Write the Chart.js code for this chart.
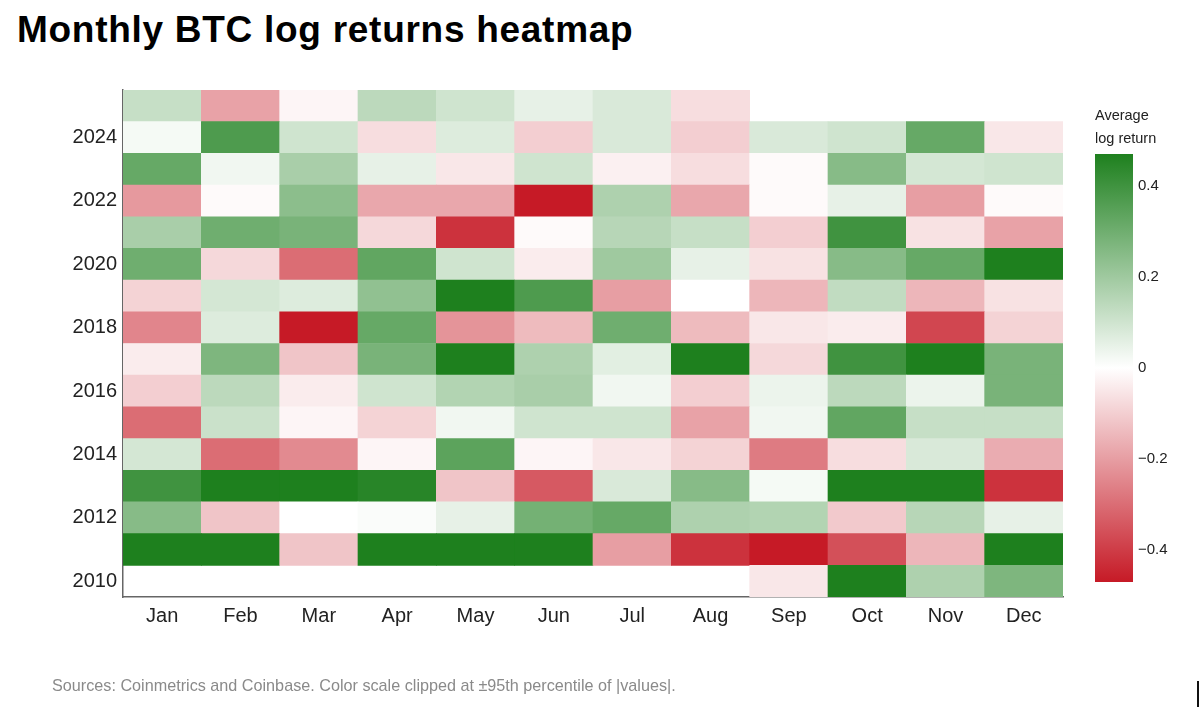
<!DOCTYPE html>
<html lang="en">
<head>
<meta charset="UTF-8">
<title>Monthly BTC log returns heatmap</title>
<script src="https://cdn.jsdelivr.net/npm/chart.js"></script>
<style>
    html, body { margin: 0; padding: 0; background: #fff; }
    body { width: 1200px; height: 707px; position: relative; overflow: hidden; font-family: "Liberation Sans", Arial, sans-serif; }
    #titulo { position: absolute; left: 17px; top: 9px; font-size: 37px; font-weight: bold; letter-spacing: 0.72px; color: #000; white-space: nowrap; }
    #heatmap { position: absolute; left: 0; top: 0; }
    #barra { position: absolute; left: 1090px; top: 140px; }
    #barra-titulo { position: absolute; left: 1095px; top: 104px; font-size: 14.5px; line-height: 23px; color: #222; }
    #fuente { position: absolute; left: 52px; top: 676px; font-size: 16.2px; color: #8a8a8a; white-space: nowrap; }
    #marca { position: absolute; left: 1197px; top: 681px; width: 2px; height: 26px; background: #111; }
</style>
</head>
<body>
<div id="titulo">Monthly BTC log returns heatmap</div>
<canvas id="heatmap" width="1200" height="707"></canvas>
<div id="barra-titulo">Average<br>log return</div>
<canvas id="barra" width="110" height="460"></canvas>
<div id="fuente">Sources: Coinmetrics and Coinbase. Color scale clipped at ±95th percentile of |values|.</div>
<div id="marca"></div>

<script>
// Meses y años
const months = ['Jan', 'Feb', 'Mar', 'Apr', 'May', 'Jun', 'Jul', 'Aug', 'Sep', 'Oct', 'Nov', 'Dec']
const years = [2010, 2011, 2012, 2013, 2014, 2015, 2016, 2017, 2018, 2019, 2020, 2021, 2022, 2023, 2024, 2025]
const yearTicks = [2010, 2012, 2014, 2016, 2018, 2020, 2022, 2024]
const barTicks = [-0.4, -0.2, 0, 0.2, 0.4]
const clip = 0.47

// Log return mensual por año
const r2010 = [null, null, null, null, null, null, null, null, -0.05, 0.50, 0.17, 0.27]
const r2011 = [0.55, 0.55, -0.12, 0.60, 0.70, 0.50, -0.20, -0.42, -0.47, -0.36, -0.15, 0.50]
const r2012 = [0.25, -0.12, 0.00, 0.01, 0.05, 0.29, 0.32, 0.17, 0.16, -0.11, 0.15, 0.05]
const r2013 = [0.40, 0.50, 0.55, 0.45, -0.12, -0.34, 0.08, 0.25, 0.02, 0.50, 0.55, -0.42]
const r2014 = [0.09, -0.30, -0.24, -0.02, 0.34, -0.02, -0.05, -0.09, -0.27, -0.07, 0.08, -0.17]
const r2015 = [-0.30, 0.11, -0.02, -0.09, 0.03, 0.10, 0.10, -0.19, 0.03, 0.33, 0.12, 0.12]
const r2016 = [-0.10, 0.14, -0.04, 0.10, 0.16, 0.18, 0.03, -0.10, 0.04, 0.14, 0.04, 0.28]
const r2017 = [-0.04, 0.27, -0.12, 0.28, 0.55, 0.17, 0.06, 0.50, -0.08, 0.40, 0.48, 0.28]
const r2018 = [-0.25, 0.07, -0.47, 0.32, -0.22, -0.14, 0.30, -0.14, -0.05, -0.04, -0.38, -0.09]
const r2019 = [-0.09, 0.09, 0.07, 0.23, 0.50, 0.37, -0.20, 0.00, -0.15, 0.13, -0.15, -0.06]
const r2020 = [0.30, -0.08, -0.30, 0.33, 0.10, -0.04, 0.20, 0.05, -0.06, 0.25, 0.32, 0.50]
const r2021 = [0.18, 0.30, 0.28, -0.08, -0.42, -0.01, 0.15, 0.12, -0.10, 0.40, -0.06, -0.19]
const r2022 = [-0.21, -0.01, 0.24, -0.18, -0.18, -0.47, 0.17, -0.18, -0.01, 0.05, -0.20, -0.01]
const r2023 = [0.32, 0.03, 0.18, 0.05, -0.05, 0.10, -0.03, -0.07, -0.01, 0.25, 0.09, 0.10]
const r2024 = [0.02, 0.37, 0.10, -0.07, 0.07, -0.10, 0.08, -0.10, 0.08, 0.10, 0.32, -0.05]
const r2025 = [0.12, -0.19, -0.02, 0.14, 0.10, 0.05, 0.08, -0.07, null, null, null, null]

const filas = [r2010, r2011, r2012, r2013, r2014, r2015, r2016, r2017, r2018, r2019, r2020, r2021, r2022, r2023, r2024, r2025]

const verde = [30, 128, 30]
const rojo = [198, 26, 38]

// Escala de color blanco -> verde / blanco -> rojo, recortada en ±clip
function colorFor(v) {
    let t = Math.max(-1, Math.min(1, v / clip))
    const fin = t >= 0 ? verde : rojo
    t = Math.abs(t)
    const c = fin.map(x => Math.round(255 + (x - 255) * t))
    return `rgb(${c[0]}, ${c[1]}, ${c[2]})`
}

const ejeFuente = { family: '"Liberation Sans", Arial, sans-serif', size: 20 }

const datasets = years.map((year, i) => ({
    label: String(year),
    data: filas[i].map(v => v === null ? null : [year - 0.5, year + 0.5]),
    backgroundColor: filas[i].map(v => v === null ? 'rgba(0,0,0,0)' : colorFor(v)),
    borderWidth: 0,
    barPercentage: 1,
    categoryPercentage: 1,
    grouped: false
}))

new Chart(document.getElementById('heatmap'), {
    type: 'bar',
    data: { labels: months, datasets: datasets },
    options: {
        responsive: false,
        animation: false,
        events: [],
        layout: { padding: { left: 0, top: 90, right: 137, bottom: 0 } },
        plugins: { legend: { display: false }, tooltip: { enabled: false } },
        scales: {
            x: {
                grid: { display: false, drawTicks: false },
                border: { display: true, color: '#666', width: 1.5 },
                ticks: { font: ejeFuente, color: '#222', padding: 7 },
                afterFit: s => { s.height = 110 }
            },
            y: {
                type: 'linear',
                min: 2009.5,
                max: 2025.5,
                grid: { display: false, drawTicks: false },
                border: { display: true, color: '#666', width: 1.5 },
                ticks: { font: ejeFuente, color: '#222', padding: 6, callback: v => String(v) },
                afterBuildTicks: s => { s.ticks = yearTicks.map(v => ({ value: v })) },
                afterFit: s => { s.width = 123 }
            }
        }
    }
})

// Barra de color
function gradiente(chart) {
    const area = chart.chartArea
    if (!area) return null
    const g = chart.ctx.createLinearGradient(0, area.bottom, 0, area.top)
    g.addColorStop(0, colorFor(-clip))
    g.addColorStop(0.5, '#ffffff')
    g.addColorStop(1, colorFor(clip))
    return g
}

new Chart(document.getElementById('barra'), {
    type: 'bar',
    data: {
        labels: [''],
        datasets: [{
            data: [[-clip, clip]],
            backgroundColor: ctx => gradiente(ctx.chart),
            borderWidth: 0,
            barPercentage: 1,
            categoryPercentage: 1
        }]
    },
    options: {
        responsive: false,
        animation: false,
        events: [],
        layout: { padding: { left: 5, top: 14, right: 0, bottom: 18 } },
        plugins: { legend: { display: false }, tooltip: { enabled: false } },
        scales: {
            x: { display: false },
            y: {
                position: 'right',
                min: -clip,
                max: clip,
                grid: { display: false, drawTicks: false },
                border: { display: false },
                ticks: {
                    font: { family: '"Liberation Sans", Arial, sans-serif', size: 15 },
                    color: '#222',
                    padding: 5,
                    callback: v => v === 0 ? '0' : (v < 0 ? '\u2212' : '') + Math.abs(v).toFixed(1)
                },
                afterBuildTicks: s => { s.ticks = barTicks.map(v => ({ value: v })) },
                afterFit: s => { s.width = 67 }
            }
        }
    }
})
</script>
</body>
</html>
